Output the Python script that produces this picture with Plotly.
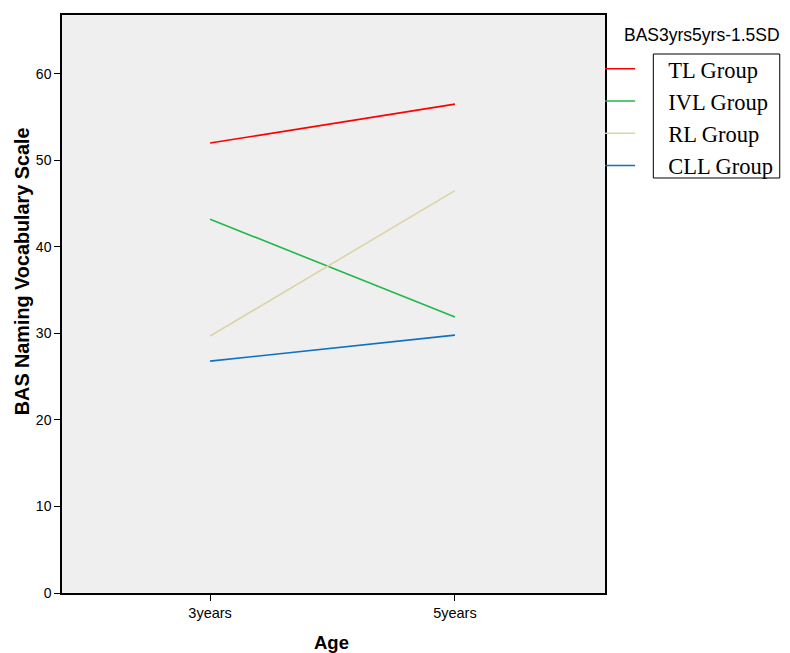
import plotly.graph_objects as go

ages = ["3years", "5years"]
groups = ["TL Group", "IVL Group", "RL Group", "CLL Group"]
tl_vals = [52.0, 56.5]
ivl_vals = [43.2, 31.9]
rl_vals = [29.7, 46.5]
cll_vals = [26.8, 29.8]
colors = ["#FF0000", "#1FB84A", "#DAD5A6", "#0D72C0"]
y_ticks = [0, 10, 20, 30, 40, 50, 60]

series = [tl_vals, ivl_vals, rl_vals, cll_vals]
pad = "\u00a0" * 5

fig = go.Figure()
for name, vals, col in zip(groups, series, colors):
    fig.add_trace(go.Scatter(x=[0, 1], y=vals, mode="lines", name=pad + name,
                             line=dict(color=col, width=1.6)))

fig.update_layout(
    width=790, height=653,
    margin=dict(l=62, r=178, t=15, b=60),
    paper_bgcolor="white",
    plot_bgcolor="#EFEFEF",
    font=dict(family="Arial, Liberation Sans, sans-serif", size=14, color="black"),
    showlegend=True,
    legend=dict(
        x=0.991, xanchor="left", y=0.9435, yanchor="top",
        font=dict(family="Liberation Serif, Times New Roman, serif", size=22.5, color="black"),
        bgcolor="rgba(0,0,0,0)", itemwidth=30,
    ),
    xaxis=dict(
        range=[-0.605, 1.613], tickmode="array", tickvals=[0, 1], ticktext=ages,
        showgrid=False, zeroline=False, showline=True, linecolor="black", linewidth=1.5,
        mirror=True, ticks="outside", ticklen=6, tickcolor="black",
        tickfont=dict(size=14.5),
    ),
    yaxis=dict(
        range=[0, 66.8], tickvals=y_ticks,
        showgrid=False, zeroline=False, showline=True, linecolor="black", linewidth=1.5,
        mirror=True, ticks="outside", ticklen=6, tickcolor="black",
        tickfont=dict(size=14),
    ),
)

fig.add_annotation(xref="paper", yref="paper", x=0.497, y=-0.086, xanchor="center", yanchor="middle",
                   text="<b>Age</b>", showarrow=False, font=dict(size=18.5))
fig.add_annotation(xref="paper", yref="paper", x=-0.0745, y=0.556, xanchor="center", yanchor="middle",
                   text="<b>BAS Naming Vocabulary Scale</b>", showarrow=False, textangle=-90,
                   font=dict(size=19.8))
fig.add_annotation(xref="paper", yref="paper", x=1.031, y=0.965, xanchor="left", yanchor="middle",
                   text="BAS3yrs5yrs-1.5SD", showarrow=False,
                   font=dict(family="Arial, Liberation Sans, sans-serif", size=17.5, color="black"))
fig.add_shape(type="rect", xref="paper", yref="paper", x0=1.089, x1=1.3218, y0=0.718, y1=0.9325,
              line=dict(color="black", width=1), fillcolor="rgba(0,0,0,0)")

post = ("document.body.style.margin='0';document.body.style.overflow='hidden';"
        "var gd=document.getElementById('{plot_id}');"
        "Plotly.relayout(gd,{width:790,height:653});")
fig.write_html("out.html", config={"displayModeBar": False, "responsive": False},
               post_script=post)
